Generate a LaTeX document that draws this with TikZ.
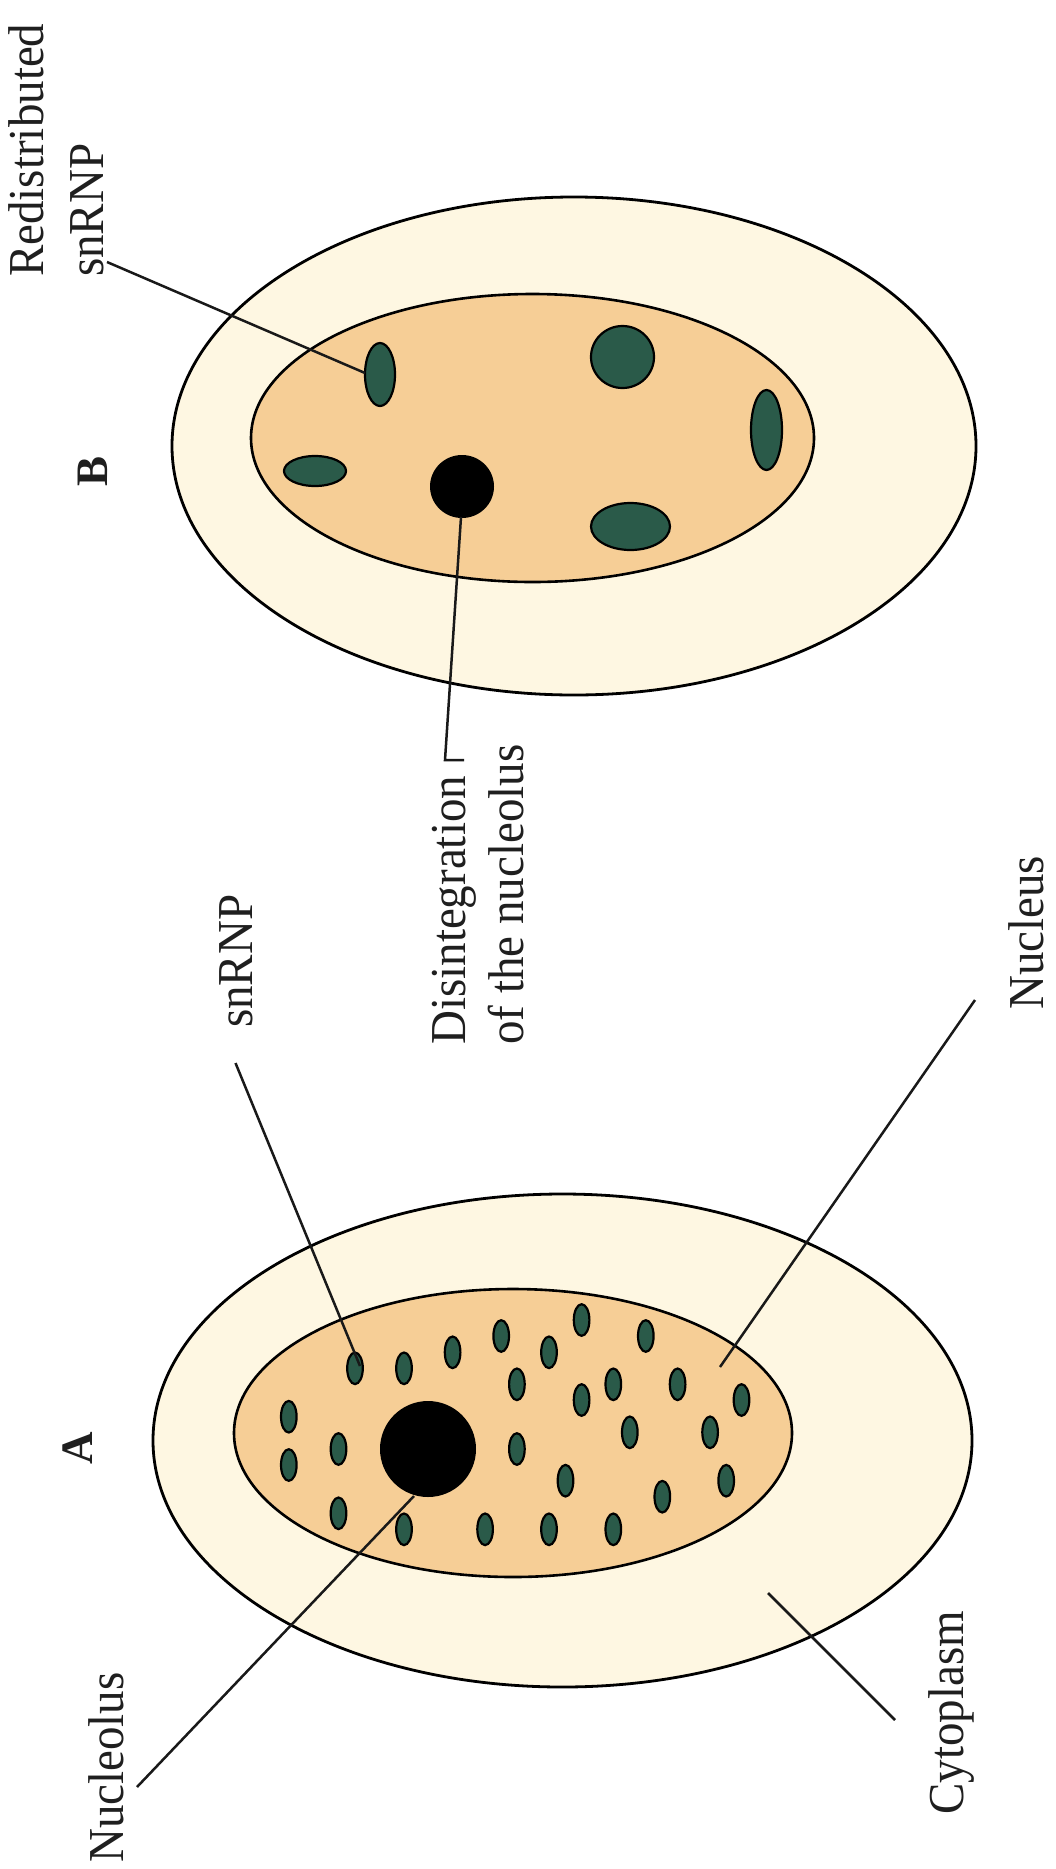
\documentclass[tikz,border=0pt]{standalone}
\usepackage{graphicx}
\usepackage{fontspec}
\setmainfont{Liberation Serif}
\definecolor{cytofill}{RGB}{254,247,226}
\definecolor{nucfill}{RGB}{246,206,150}
\definecolor{spotgreen}{RGB}{42,90,73}
% glyphs of the labels are set slightly taller than the font's own proportions
\newcommand{\tallglyphs}[1]{\scalebox{1}[1.07]{#1}}
\begin{document}
\begin{tikzpicture}[x=1pt,y=-1pt,
  cyto/.style={fill=cytofill,draw=black,line width=2.8pt},
  nucl/.style={fill=nucfill,draw=black,line width=2.6pt},
  spot/.style={fill=spotgreen,draw=black,line width=2.2pt},
  nucleolusfill/.style={fill=black},
  lead/.style={draw=black!90,line width=2.5pt},
  lbl/.style={rotate=90,anchor=base west,inner sep=0pt,text=black!88,
    font=\fontsize{47}{56}\selectfont},
  tag/.style={rotate=90,anchor=base west,inner sep=0pt,text=black!88,
    font=\fontsize{45}{54}\selectfont\bfseries}]
\useasboundingbox[fill=white] (0,0) rectangle (1055,1869);

% ---------- cell B (upper) ----------
\path[cyto] (574,446) ellipse [x radius=402pt, y radius=249pt];
\path[nucl] (532.5,438) ellipse [x radius=281.5pt, y radius=144pt];
\path[spot] (380,374.5) ellipse [x radius=15pt, y radius=31.5pt];
\path[spot] (315,471) ellipse [x radius=31pt, y radius=15pt];
\path[spot] (622.5,357) ellipse [x radius=31.5pt, y radius=31pt];
\path[spot] (630.5,526.5) ellipse [x radius=39.5pt, y radius=23.5pt];
\path[spot] (766.5,430) ellipse [x radius=15.5pt, y radius=40pt];
\path[nucleolusfill] (462,486.5) ellipse [x radius=32pt, y radius=31.5pt];

% ---------- cell A (lower) ----------
\path[cyto] (562.5,1440.5) ellipse [x radius=409.5pt, y radius=246.5pt];
\path[nucl] (513,1433) ellipse [x radius=279pt, y radius=144pt];
\foreach \px/\py in {355/1368.3, 404/1368.3, 452.6/1352.3, 501.2/1336,
    581.6/1320, 549/1352.3, 645.8/1336, 516.9/1384.3, 581.6/1400,
    613.3/1384.3, 677.6/1384.3, 741.5/1400, 288.8/1416.7, 288.8/1465,
    338.5/1449, 516.9/1449, 629.8/1432.3, 710.1/1432.3, 565.5/1480.7,
    662.3/1496.7, 726.2/1480.7, 338.5/1513.3, 404/1529.3, 485.1/1529.3,
    549/1529.3, 613.3/1529.3}
  \path[spot] (\px,\py) ellipse [x radius=7.8pt, y radius=15.8pt];
\path[nucleolusfill] (428,1449) circle [radius=48pt];

% ---------- labels ----------
\node[lbl] (redistA) at (43,277) {\tallglyphs{Redistributed}};
\node[lbl] (redistB) at (103,277) {\tallglyphs{snRNP}};
\node[tag] (tagB) at (107,487) {B};
\node[tag] (tagA) at (92,1465) {A};
\node[lbl] (disA) at (465,1045) {\tallglyphs{Disintegration}};
\node[lbl] (disB) at (523,1045) {\tallglyphs{of the nucleolus}};
\node[lbl] (snrnp) at (252,1028) {\tallglyphs{snRNP}};
\node[lbl] (nucleus) at (1043,1010) {\tallglyphs{Nucleus}};
\node[lbl] (nucleolus) at (123,1863) {\tallglyphs{Nucleolus}};
\node[lbl] (cytoplasm) at (963,1815) {\tallglyphs{Cytoplasm}};

% ---------- leader lines ----------
\coordinate (redistFrom) at (107,262);
\coordinate (redistTo) at (365,373);
\coordinate (disTick) at (464,760);
\coordinate (disBend) at (445,760);
\coordinate (disTo) at (461,517);
\coordinate (snFrom) at (235.5,1063);
\coordinate (snTo) at (360,1366);
\coordinate (nucFrom) at (975,1000);
\coordinate (nucTo) at (720,1367);
\coordinate (nlFrom) at (137,1787);
\coordinate (nlTo) at (414,1496);
\coordinate (cyFrom) at (895,1720);
\coordinate (cyTo) at (768,1593);

\draw[lead] (redistFrom) -- (redistTo);
\draw[lead] (disTick) -- (disBend) -- (disTo);
\draw[lead] (snFrom) -- (snTo);
\draw[lead] (nucFrom) -- (nucTo);
\draw[lead] (nlFrom) -- (nlTo);
\draw[lead] (cyFrom) -- (cyTo);
\end{tikzpicture}
\end{document}
